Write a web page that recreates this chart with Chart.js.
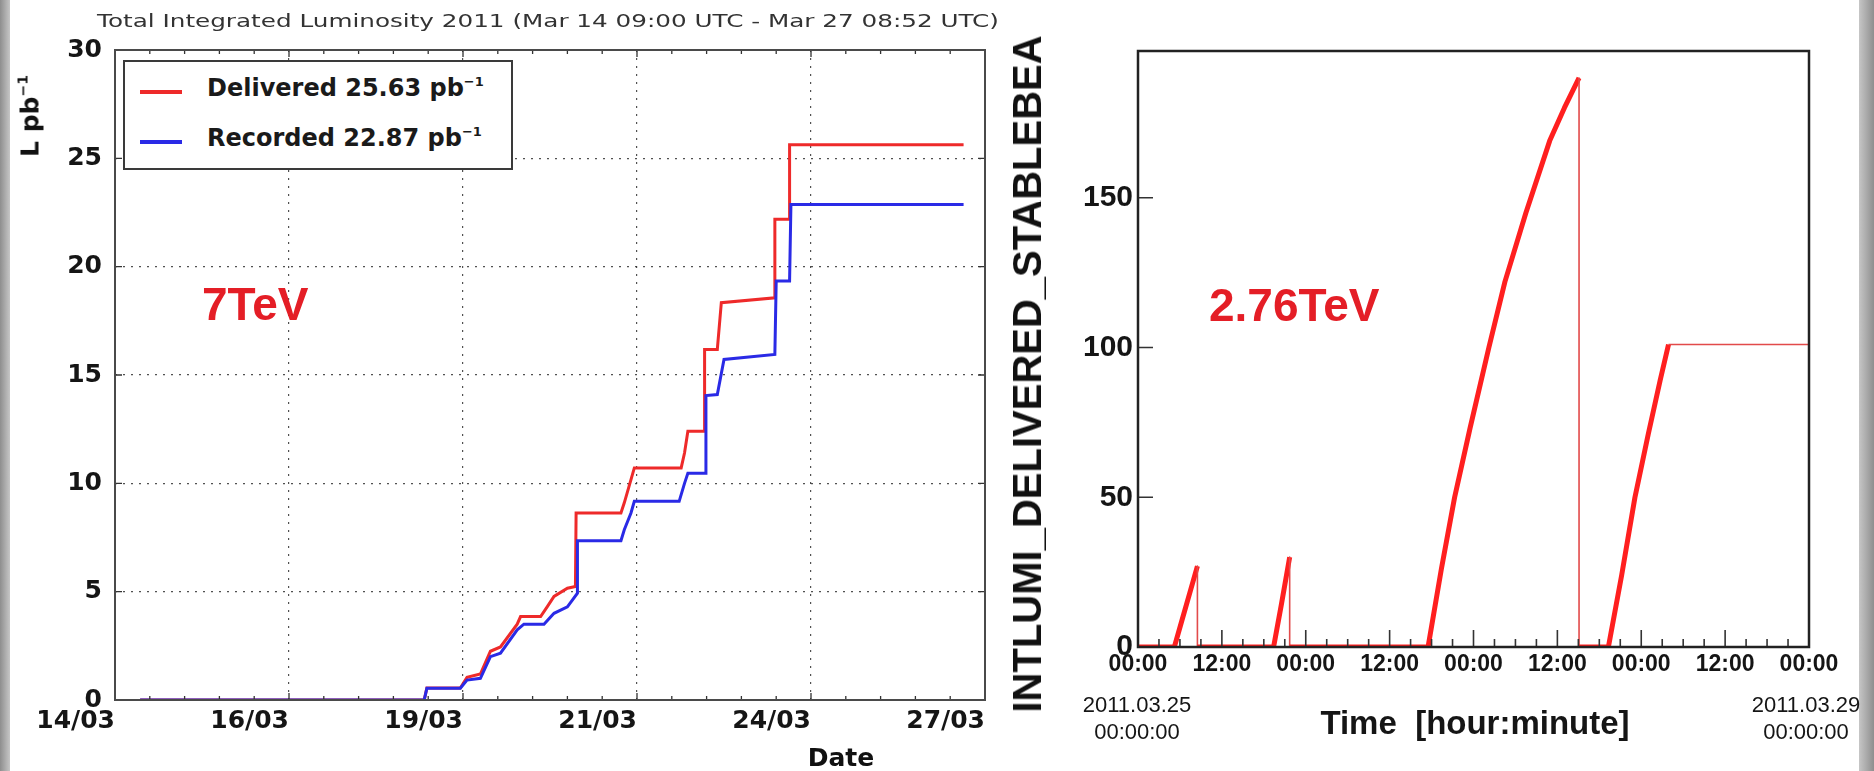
<!DOCTYPE html>
<html><head><meta charset="utf-8">
<script src="https://cdn.jsdelivr.net/npm/chart.js@4.4.1/dist/chart.umd.min.js"></script>
<style>
html,body{margin:0;padding:0;background:#fff;}
#stage{position:relative;width:1874px;height:771px;overflow:hidden;background:#fff;}
canvas{position:absolute;top:0;}
.t{position:absolute;white-space:nowrap;line-height:1;}
.dj{font-family:'DejaVu Sans',sans-serif;}
.lib{font-family:'Liberation Sans',Arial,sans-serif;}
</style></head><body>
<div id="stage">
  <div style="position:absolute;left:0;top:0;width:10px;height:771px;background:linear-gradient(to right,#8e8e8e,#c6c6c6);"></div>
  <div style="position:absolute;right:0;top:0;width:15px;height:771px;background:linear-gradient(to right,#c6c6c6,#8e8e8e);"></div>
  <canvas id="left" width="1010" height="771" style="left:0;"></canvas>
  <canvas id="right" width="864" height="771" style="left:1010px;"></canvas>

  <div class="t dj" style="left:548px;top:21px;font-size:18px;color:#333;transform:translate(-50%,-50%) scaleX(1.37);">Total Integrated Luminosity 2011 (Mar 14 09:00 UTC - Mar 27 08:52 UTC)</div>

  <div style="position:absolute;left:123px;top:60px;width:390px;height:110px;box-sizing:border-box;border:2px solid #3a3a3a;background:#fff;"></div>
  <div style="position:absolute;left:140px;top:90px;width:42px;height:3.5px;background:#ee2a2a;"></div>
  <div style="position:absolute;left:140px;top:140px;width:42px;height:3.5px;background:#2a2ae6;"></div>
  <div class="t dj" style="left:207px;top:88px;font-size:24px;font-weight:bold;color:#1a1a1a;transform:translateY(-50%);">Delivered 25.63 pb<span style="font-size:13px;position:relative;top:-10px;">−1</span></div>
  <div class="t dj" style="left:207px;top:138px;font-size:24px;font-weight:bold;color:#1a1a1a;transform:translateY(-50%);">Recorded 22.87 pb<span style="font-size:13px;position:relative;top:-10px;">−1</span></div>

  <div class="t dj" style="left:30px;top:116px;font-size:25px;font-weight:bold;color:#111;transform:translate(-50%,-50%) rotate(-90deg);">L pb<span style="font-size:14px;position:relative;top:-11px;">−1</span></div>
  <div class="t dj" style="left:841px;top:757px;font-size:25px;font-weight:bold;color:#111;transform:translate(-50%,-50%);">Date</div>
  <div class="t lib" style="left:202px;top:304px;font-size:46px;font-weight:bold;color:#e41e26;transform:translateY(-50%);">7TeV</div>

  <div class="t lib" style="left:1209px;top:305px;font-size:46px;font-weight:bold;color:#e41e26;transform:translateY(-50%);">2.76TeV</div>
  <div class="t lib" style="left:1027px;top:374px;font-size:40px;font-weight:bold;color:#111;transform:translate(-50%,-50%) rotate(-90deg);">INTLUMI_DELIVERED_STABLEBEA</div>
  <div class="t lib" style="left:1475px;top:722px;font-size:33px;font-weight:bold;color:#151515;transform:translate(-50%,-50%);">Time&nbsp;&nbsp;[hour:minute]</div>
  <div class="t lib" style="left:1137px;top:691px;font-size:22px;line-height:27px;color:#151515;text-align:center;transform:translateX(-50%);">2011.03.25<br>00:00:00</div>
  <div class="t lib" style="left:1806px;top:691px;font-size:22px;line-height:27px;color:#151515;text-align:center;transform:translateX(-50%);">2011.03.29<br>00:00:00</div>
</div>
<script>
// ---------- Left chart (7 TeV) data ----------
const dayTicks = [0, 2.6, 5.2, 7.8, 10.4, 13];          // days since 14/03 00:00
const dayTickLabels = ['14/03', '16/03', '19/03', '21/03', '24/03', '27/03'];
const lumiTicks = [0, 5, 10, 15, 20, 25, 30];

const deliveredDays = [0.375, 4.62, 4.66, 5.16, 5.26, 5.46, 5.61, 5.76, 6.01, 6.06, 6.36, 6.46, 6.56, 6.76, 6.88, 6.89, 7.56, 7.61, 7.71, 7.76, 8.46, 8.51, 8.56, 8.81, 8.81, 9.00, 9.06, 9.86, 9.86, 10.08, 10.08, 12.68];
const deliveredLumi = [0, 0, 0.55, 0.55, 1.05, 1.2, 2.25, 2.45, 3.5, 3.85, 3.85, 4.31, 4.78, 5.16, 5.24, 8.63, 8.63, 9.1, 10.17, 10.71, 10.71, 11.4, 12.4, 12.4, 16.18, 16.18, 18.34, 18.56, 22.19, 22.19, 25.63, 25.63];

const recordedDays = [0.375, 4.62, 4.66, 5.16, 5.26, 5.46, 5.61, 5.76, 6.01, 6.11, 6.41, 6.56, 6.76, 6.91, 6.91, 7.56, 7.61, 7.71, 7.76, 8.43, 8.51, 8.56, 8.83, 8.83, 9.00, 9.10, 9.86, 9.88, 10.08, 10.10, 12.68];
const recordedLumi = [0, 0, 0.54, 0.54, 0.92, 1.0, 2.0, 2.16, 3.24, 3.5, 3.5, 4.0, 4.3, 4.93, 7.35, 7.35, 7.86, 8.63, 9.17, 9.17, 10.0, 10.46, 10.46, 14.05, 14.1, 15.72, 15.95, 19.34, 19.34, 22.87, 22.87];

// ---------- Right chart (2.76 TeV) data ----------
const hourTicks = [0, 12, 24, 36, 48, 60, 72, 84, 96];  // hours since 2011.03.25 00:00
const hourTickLabels = ['00:00', '12:00', '00:00', '12:00', '00:00', '12:00', '00:00', '12:00', '00:00'];
const intLumiTicks = [0, 50, 100, 150];

const runHours = [0, 5.2, 6.3, 7.4, 8.5, 8.5, 19.4, 20.5, 21.7, 21.7, 41.5, 43.4, 45.3, 47.5, 50.2, 52.5, 55.5, 58.9, 61.0, 63.1, 63.1, 67.3, 69.2, 71.1, 73.0, 74.7, 75.9, 96];
const runLumi  = [0, 0, 9, 18, 27, 0, 0, 14, 30, 0, 0, 26, 50, 73, 100, 122, 145, 169, 180, 190, 0, 0, 24, 50, 71, 89, 101, 101];

// ---------- helpers ----------
const toXY = (xs, ys) => xs.map((x, i) => ({x: x, y: ys[i]}));
const minorBetween = (majors, n) => {
  const out = [];
  for (let i = 0; i < majors.length - 1; i++) {
    const step = (majors[i + 1] - majors[i]) / n;
    for (let k = 1; k < n; k++) out.push(majors[i] + k * step);
  }
  return out;
};

const sideTicks = {
  id: 'sideTicks',
  afterDatasetsDraw(chart, args, o) {
    const {ctx, chartArea: a, scales} = chart;
    const xs = scales.x, ys = scales.y;
    ctx.save();
    ctx.lineWidth = o.tickWidth;
    ctx.strokeStyle = o.tickColor;
    ctx.beginPath();
    (o.xMajor || []).forEach(v => {
      const p = xs.getPixelForValue(v);
      ctx.moveTo(p, a.bottom); ctx.lineTo(p, a.bottom - o.xMajorLen);
      if (o.mirror) { ctx.moveTo(p, a.top); ctx.lineTo(p, a.top + o.xMajorLen); }
    });
    (o.xMinor || []).forEach(v => {
      const p = xs.getPixelForValue(v);
      ctx.moveTo(p, a.bottom); ctx.lineTo(p, a.bottom - o.xMinorLen);
      if (o.mirror) { ctx.moveTo(p, a.top); ctx.lineTo(p, a.top + o.xMinorLen); }
    });
    (o.yMajor || []).forEach(v => {
      const p = ys.getPixelForValue(v);
      ctx.moveTo(a.left, p); ctx.lineTo(a.left + o.yMajorLen, p);
      if (o.mirror) { ctx.moveTo(a.right, p); ctx.lineTo(a.right - o.yMajorLen, p); }
    });
    ctx.stroke();
    ctx.lineWidth = o.frameWidth;
    ctx.strokeStyle = o.frameColor;
    ctx.strokeRect(a.left, a.top, a.right - a.left, a.bottom - a.top);
    ctx.restore();
  }
};

Chart.defaults.animation = false;

// ---------- Left chart ----------
new Chart(document.getElementById('left'), {
  type: 'scatter',
  data: {
    datasets: [
      {label: 'Recorded 22.87 pb⁻¹', data: toXY(recordedDays, recordedLumi), showLine: true,
       borderColor: '#2a2ae6', borderWidth: 3, pointRadius: 0, order: 0},
      {label: 'Delivered 25.63 pb⁻¹', data: toXY(deliveredDays, deliveredLumi), showLine: true,
       borderColor: '#ee2a2a', borderWidth: 3, pointRadius: 0, order: 1}
    ]
  },
  plugins: [sideTicks],
  options: {
    responsive: false, animation: false, devicePixelRatio: 1,
    layout: {padding: {left: 0, right: 25, top: 50, bottom: 0}},
    plugins: {
      legend: {display: false}, tooltip: {enabled: false}, title: {display: false},
      sideTicks: {tickWidth: 1.3, tickColor: '#333', xMajor: dayTicks, xMinor: minorBetween(dayTicks, 5),
                  yMajor: lumiTicks, xMajorLen: 7, xMinorLen: 4, yMajorLen: 7, mirror: true,
                  frameWidth: 2, frameColor: '#4a4a4a'}
    },
    scales: {
      x: {
        type: 'linear', min: 0, max: 13,
        afterBuildTicks: s => { s.ticks = dayTicks.map(v => ({value: v})); },
        afterFit: s => { s.height = 71; },
        ticks: {callback: (v, i) => dayTickLabels[i], align: 'end', padding: 6, autoSkip: false,
                maxRotation: 0, minRotation: 0, color: '#151515',
                font: {family: 'DejaVu Sans', weight: 'bold', size: 25}},
        grid: {color: 'rgba(50,50,50,0.85)', lineWidth: 1.2, drawTicks: false},
        border: {display: false, dash: [2, 6]}
      },
      y: {
        type: 'linear', min: 0, max: 30,
        afterBuildTicks: s => { s.ticks = lumiTicks.map(v => ({value: v})); },
        afterFit: s => { s.width = 115; },
        ticks: {padding: 13, color: '#151515', font: {family: 'DejaVu Sans', weight: 'bold', size: 25}},
        grid: {color: 'rgba(50,50,50,0.85)', lineWidth: 1.2, drawTicks: false},
        border: {display: false, dash: [2, 6]}
      }
    }
  }
});

// ---------- Right chart ----------
const isThin = c => c.p1.parsed.y < c.p0.parsed.y || (c.p1.parsed.y === c.p0.parsed.y && c.p0.parsed.y > 0);
new Chart(document.getElementById('right'), {
  type: 'scatter',
  data: {
    datasets: [
      {label: 'INTLUMI_DELIVERED_STABLEBEAMS', data: toXY(runHours, runLumi), showLine: true,
       borderColor: '#ff1f1f', borderWidth: 5, pointRadius: 0, borderJoinStyle: 'round',
       segment: {
         borderWidth: c => isThin(c) ? 1.6 : 5,
         borderColor: c => isThin(c) ? '#e24a4a' : '#ff1f1f'
       }}
    ]
  },
  plugins: [sideTicks],
  options: {
    responsive: false, animation: false, devicePixelRatio: 1,
    layout: {padding: {left: 0, right: 65, top: 51, bottom: 0}},
    plugins: {
      legend: {display: false}, tooltip: {enabled: false}, title: {display: false},
      sideTicks: {tickWidth: 1.6, tickColor: '#333', xMajor: hourTicks, xMinor: minorBetween(hourTicks, 4),
                  yMajor: intLumiTicks, xMajorLen: 17, xMinorLen: 8, yMajorLen: 15, mirror: false,
                  frameWidth: 2.5, frameColor: '#222'}
    },
    scales: {
      x: {
        type: 'linear', min: 0, max: 96,
        afterBuildTicks: s => { s.ticks = hourTicks.map(v => ({value: v})); },
        afterFit: s => { s.height = 124; },
        ticks: {callback: (v, i) => hourTickLabels[i], padding: 4, autoSkip: false, maxRotation: 0, minRotation: 0,
                color: '#151515', font: {family: 'Liberation Sans', weight: 'bold', size: 23}},
        grid: {display: false, drawTicks: false},
        border: {display: false}
      },
      y: {
        type: 'linear', min: 0, max: 199,
        afterBuildTicks: s => { s.ticks = intLumiTicks.map(v => ({value: v})); },
        afterFit: s => { s.width = 128; },
        ticks: {padding: 5, color: '#151515', font: {family: 'Liberation Sans', weight: 'bold', size: 30}},
        grid: {display: false, drawTicks: false},
        border: {display: false}
      }
    }
  }
});
</script>
</body></html>
